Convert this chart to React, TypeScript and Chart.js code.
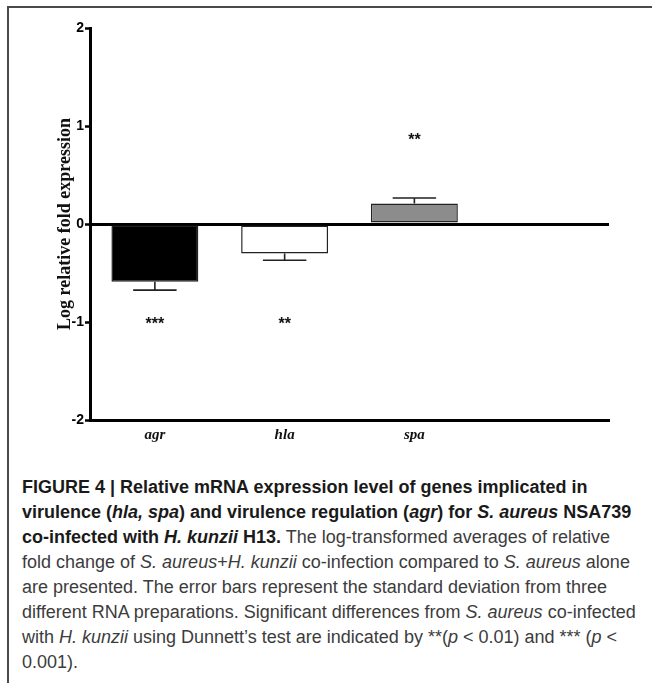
import React, { useEffect, useRef } from "react";
import { Chart, registerables } from "chart.js";

Chart.register(...registerables);

const categories = ["agr", "hla", "spa", ""];
const means = [-0.59, -0.3, 0.21, null];
const sds = [0.085, 0.07, 0.055, 0];
const barColors = ["#000000", "#ffffff", "#8c8c8c", "#ffffff"];
const sigLabels = ["***", "**", "**", ""];
const sigPositions = [-1.0, -1.0, 0.88, 0];
const yTicks = [-2, -1, 0, 1, 2];
const yTitle = "Log relative fold expression";

const errorBarPlugin = {
  id: "errorBars",
  afterDatasetsDraw(chart: any) {
    const ctx = chart.ctx;
    const meta = chart.getDatasetMeta(0);
    const yScale = chart.scales.y;
    ctx.save();
    ctx.strokeStyle = "#222";
    ctx.lineWidth = 1.6;
    meta.data.forEach((bar: any, i: number) => {
      const v = means[i];
      if (v === null || v === undefined) return;
      const end = v >= 0 ? v + sds[i] : v - sds[i];
      const yEnd = yScale.getPixelForValue(end);
      const yBar = yScale.getPixelForValue(v);
      const half = bar.width * 0.25;
      ctx.beginPath();
      ctx.moveTo(bar.x, yBar);
      ctx.lineTo(bar.x, yEnd);
      ctx.moveTo(bar.x - half, yEnd);
      ctx.lineTo(bar.x + half, yEnd);
      ctx.stroke();
    });
    ctx.fillStyle = "#111";
    ctx.font = "bold 16px 'Liberation Sans', Arial, sans-serif";
    ctx.textAlign = "center";
    ctx.textBaseline = "alphabetic";
    meta.data.forEach((bar: any, i: number) => {
      if (!sigLabels[i]) return;
      const y = yScale.getPixelForValue(sigPositions[i]);
      ctx.fillText(sigLabels[i], bar.x, y + 16 * 0.45);
    });
    ctx.restore();
  },
};

function ChartBox() {
  const ref = useRef<HTMLCanvasElement | null>(null);
  useEffect(() => {
    if (!ref.current) return;
    const chart = new Chart(ref.current, {
      type: "bar",
      data: {
        labels: categories,
        datasets: [
          {
            data: means as any,
            backgroundColor: barColors,
            borderColor: "#222",
            borderWidth: 1.5,
            borderSkipped: false,
            barPercentage: 0.67,
            categoryPercentage: 1,
          },
        ],
      },
      options: {
        responsive: false,
        animation: false,
        devicePixelRatio: 1,
        layout: { padding: { left: 55, right: 43, top: 28, bottom: 0 } },
        plugins: { legend: { display: false }, tooltip: { enabled: false } },
        scales: {
          x: {
            grid: { display: false, drawTicks: false },
            border: { display: true, color: "#000", width: 3 },
            ticks: {
              padding: 6,
              color: "#111",
              font: { family: "'Liberation Serif', 'Times New Roman', serif", size: 15, style: "italic", weight: "bold" },
            },
            afterFit: (s: any) => {
              s.height = 40;
            },
          },
          y: {
            min: -2,
            max: 2,
            afterBuildTicks: (s: any) => {
              s.ticks = yTicks.map((v) => ({ value: v }));
            },
            grid: {
              color: (c: any) => (c.tick && c.tick.value === 0 ? "#000" : "rgba(0,0,0,0)"),
              lineWidth: (c: any) => (c.tick && c.tick.value === 0 ? 3 : 1),
              tickColor: "#000",
              tickWidth: 2.5,
              tickLength: 5,
            },
            border: { display: true, color: "#000", width: 3 },
            ticks: {
              padding: 1,
              color: "#000",
              font: { family: "'Liberation Sans', Arial, sans-serif", size: 14, weight: "bold" },
            },
            title: {
              display: true,
              text: yTitle,
              color: "#111",
              padding: 0,
              font: { family: "'Liberation Serif', 'Times New Roman', serif", size: 18, weight: "bold" },
            },
            afterFit: (s: any) => {
              s.width = 35;
            },
          },
        },
      },
      plugins: [errorBarPlugin],
    });
    return () => chart.destroy();
  }, []);
  return (
    <canvas
      ref={ref}
      width={652}
      height={460}
      style={{ position: "absolute", left: 0, top: 0, width: 652, height: 460 }}
    />
  );
}

export default function App() {
  const b = { fontWeight: "bold", color: "#1a1a1a" } as React.CSSProperties;
  return (
    <div
      style={{
        position: "absolute",
        left: 0,
        top: 0,
        width: 652,
        height: 683,
        background: "#fff",
        overflow: "hidden",
      }}
    >
      <div
        style={{
          position: "absolute",
          left: 7,
          top: 6,
          width: 660,
          height: 700,
          borderTop: "2px solid #4a4a4a",
          borderLeft: "2px solid #4a4a4a",
        }}
      />
      <ChartBox />
      <div
        style={{
          position: "absolute",
          left: 22,
          top: 475,
          fontFamily: "'Liberation Sans', Arial, sans-serif",
          fontSize: 18,
          lineHeight: "25px",
          color: "#3c3c3c",
          whiteSpace: "nowrap",
        }}
      >
        <div style={b}>FIGURE 4 | Relative mRNA expression level of genes implicated in</div>
        <div style={b}>
          virulence (<i>hla, spa</i>) and virulence regulation (<i>agr</i>) for <i>S. aureus</i> NSA739
        </div>
        <div>
          <span style={b}>
            co-infected with <i>H. kunzii</i> H13.
          </span>{" "}
          The log-transformed averages of relative
        </div>
        <div>
          fold change of <i>S. aureus</i>+<i>H. kunzii</i> co-infection compared to <i>S. aureus</i> alone
        </div>
        <div>are presented. The error bars represent the standard deviation from three</div>
        <div>
          different RNA preparations. Significant differences from <i>S. aureus</i> co-infected
        </div>
        <div>
          with <i>H. kunzii</i> using Dunnett’s test are indicated by **(<i>p</i> &lt; 0.01) and *** (<i>p</i> &lt;
        </div>
        <div>0.001).</div>
      </div>
    </div>
  );
}
